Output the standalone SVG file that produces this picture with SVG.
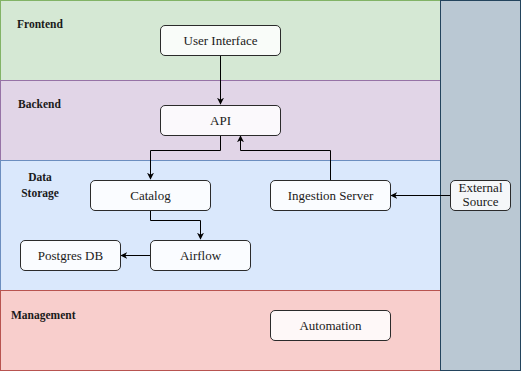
<svg xmlns="http://www.w3.org/2000/svg" width="521" height="372" viewBox="0 0 521 372">
  <defs>
    <marker id="arrow" viewBox="0 0 10 10" refX="9" refY="5" markerWidth="7" markerHeight="7" markerUnits="userSpaceOnUse" orient="auto">
      <path d="M0,0 L10,5 L0,10 L3,5 Z" fill="#000"/>
    </marker>
  </defs>
  <style>
    .lane-label { font-family: "Liberation Serif", "DejaVu Serif", serif; font-size: 11.5px; font-weight: bold; fill: #1a1a1a; }
    .node rect { fill: #ffffff; fill-opacity: 0.85; stroke: #2b2b2b; stroke-width: 1; }
    .node text { font-family: "Liberation Serif", "DejaVu Serif", serif; font-size: 13px; fill: #1a1a1a; text-anchor: middle; }
    .edge { fill: none; stroke: #000; stroke-width: 1; marker-end: url(#arrow); }
  </style>

  <!-- swimlanes -->
  <g id="lanes">
    <rect x="0.5" y="0.5" width="440" height="80" fill="#d5e8d4" stroke="#82b366"/>
    <rect x="0.5" y="80.5" width="440" height="80" fill="#e1d5e7" stroke="#9673a6"/>
    <rect x="0.5" y="160.5" width="440" height="130" fill="#dae8fc" stroke="#6c8ebf"/>
    <rect x="0.5" y="290.5" width="440" height="80" fill="#f8cecc" stroke="#b85450"/>
    <rect x="440.5" y="0.5" width="80" height="370" fill="#bac8d3" stroke="#23445d"/>
    <text class="lane-label" x="17" y="28">Frontend</text>
    <text class="lane-label" x="18" y="108">Backend</text>
    <text class="lane-label" x="40" y="181" text-anchor="middle">Data</text>
    <text class="lane-label" x="40" y="197" text-anchor="middle">Storage</text>
    <text class="lane-label" x="11" y="319">Management</text>
  </g>

  <!-- connectors -->
  <g id="connectors">
    <path class="edge" d="M220.5,55 L220.5,104"/>
    <path class="edge" d="M220.5,135 L220.5,150.5 L150.5,150.5 L150.5,179"/>
    <path class="edge" d="M330.5,180 L330.5,150.5 L240.5,150.5 L240.5,136"/>
    <path class="edge" d="M150.5,210 L150.5,220.5 L200.5,220.5 L200.5,239"/>
    <path class="edge" d="M150,255.5 L121,255.5"/>
    <path class="edge" d="M450,195.5 L391,195.5"/>
  </g>

  <!-- nodes -->
  <g id="user-interface" class="node">
    <rect x="160.5" y="25.5" width="120" height="30" rx="4.5"/>
    <text x="220.5" y="44.5">User Interface</text>
  </g>
  <g id="api" class="node">
    <rect x="160.5" y="105.5" width="120" height="30" rx="4.5"/>
    <text x="220.5" y="124.5">API</text>
  </g>
  <g id="catalog" class="node">
    <rect x="90.5" y="180.5" width="120" height="30" rx="4.5"/>
    <text x="150.5" y="199.5">Catalog</text>
  </g>
  <g id="ingestion-server" class="node">
    <rect x="270.5" y="180.5" width="120" height="30" rx="4.5"/>
    <text x="330.5" y="199.5">Ingestion Server</text>
  </g>
  <g id="postgres-db" class="node">
    <rect x="20.5" y="240.5" width="100" height="30" rx="4.5"/>
    <text x="70.5" y="259.5">Postgres DB</text>
  </g>
  <g id="airflow" class="node">
    <rect x="150.5" y="240.5" width="100" height="30" rx="4.5"/>
    <text x="200.5" y="259.5">Airflow</text>
  </g>
  <g id="automation" class="node">
    <rect x="270.5" y="310.5" width="120" height="30" rx="4.5"/>
    <text x="330.5" y="329.5">Automation</text>
  </g>
  <g id="external-source" class="node">
    <rect x="450.5" y="180.5" width="60" height="30" rx="4.5"/>
    <text x="480.5" y="191.5">External</text>
    <text x="480.5" y="205.5">Source</text>
  </g>
</svg>
